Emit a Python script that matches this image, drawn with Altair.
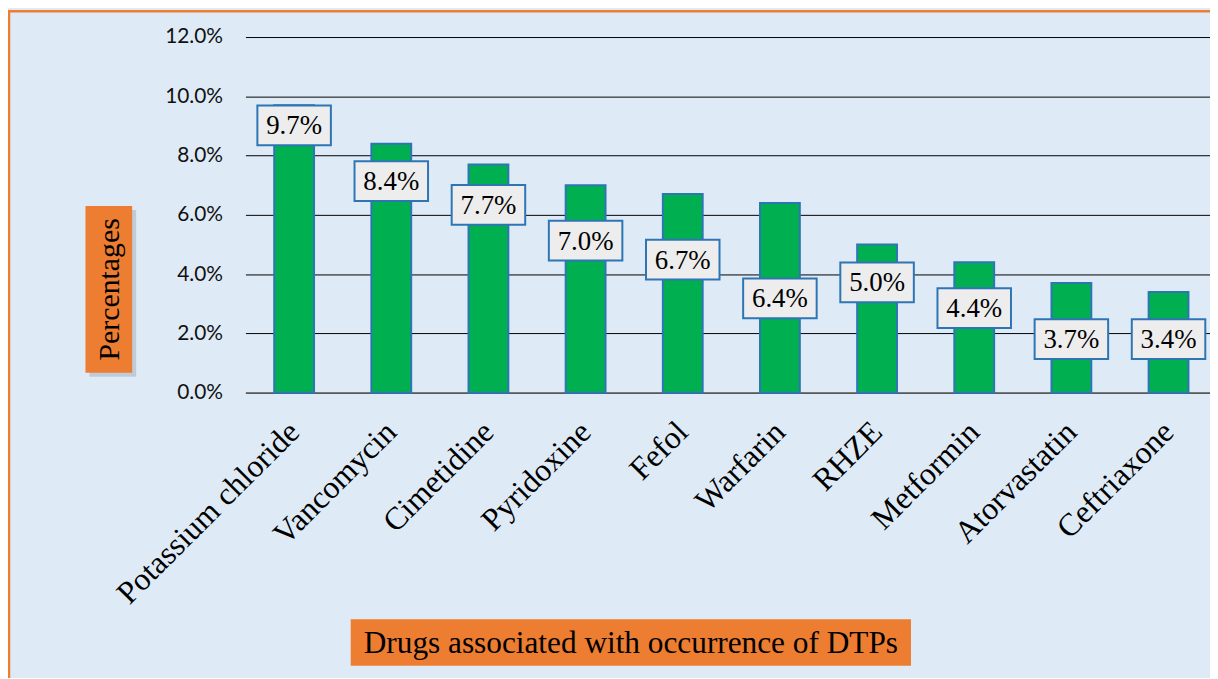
import altair as alt
import pandas as pd

drugs = ["Potassium chloride", "Vancomycin", "Cimetidine", "Pyridoxine", "Fefol",
         "Warfarin", "RHZE", "Metformin", "Atorvastatin", "Ceftriaxone"]
percent = [9.7, 8.4, 7.7, 7.0, 6.7, 6.4, 5.0, 4.4, 3.7, 3.4]
# where each data-label box sits, in axis units
label_at = [9.02, 7.14, 6.34, 5.13, 4.49, 3.18, 3.72, 2.85, 1.81, 1.81]
y_ticks = [0, 2, 4, 6, 8, 10, 12]
x_title = "Drugs associated with occurrence of DTPs"
y_title = "Percentages"

df = pd.DataFrame({"drug": drugs, "pct": percent, "lab": label_at})
df["txt"] = [f"{v:.1f}%" for v in percent]

W, H = 971, 358
BG = "#DEEBF7"
ORANGE = "#ED7D31"
BLUE = "#2E75B6"
GREEN = "#00B050"

xscale = alt.Scale(type="band", domain=drugs, paddingInner=0.59, paddingOuter=0.259, align=0.572)
yscale = alt.Scale(domain=[0, 12])

x_enc = alt.X("drug:N", sort=drugs, scale=xscale,
              axis=alt.Axis(title=None, labelAngle=-45, labelAlign="right",
                            labelBaseline="middle", labelFont="Liberation Serif",
                            labelFontSize=32, labelColor="black", labelPadding=34,
                            ticks=False, domainColor="#595959", domainWidth=1.5,
                            labelLimit=500, labelOverlap=False))
y_axis = alt.Axis(title=None, values=y_ticks,
                  labelExpr="format(datum.value, '.1f') + '%'",
                  labelFont="Lato", labelFontSize=21, labelColor="#111111",
                  ticks=False, domain=False, gridColor="black", gridWidth=1,
                  labelPadding=23)

base = alt.Chart(df)
bars = base.mark_bar(fill=GREEN, stroke=BLUE, strokeWidth=2).encode(
    x=x_enc, y=alt.Y("pct:Q", scale=yscale, axis=y_axis))

boxes = base.mark_point(shape="M-1,-0.5405H1V0.5405H-1Z", size=74 * 74, filled=True,
                        fill="#EDEDED", stroke=BLUE, strokeWidth=2, opacity=1).encode(
    x=alt.X("drug:N", sort=drugs, scale=xscale),
    y=alt.Y("lab:Q", scale=yscale))

texts = base.mark_text(font="Liberation Serif", fontSize=27, color="black",
                       align="center", baseline="middle", dy=1).encode(
    x=alt.X("drug:N", sort=drugs, scale=xscale),
    y=alt.Y("lab:Q", scale=yscale),
    text="txt:N")

ydf = pd.DataFrame({"t": [y_title]})
xdf = pd.DataFrame({"t": [x_title]})

y_shadow = alt.Chart(ydf).mark_rect(color="#9aa5b1", opacity=0.45).encode(
    x=alt.value(-157), x2=alt.value(-110), y=alt.value(174), y2=alt.value(342))
y_box = alt.Chart(ydf).mark_rect(color=ORANGE).encode(
    x=alt.value(-161), x2=alt.value(-114), y=alt.value(170), y2=alt.value(338))
y_text = alt.Chart(ydf).mark_text(angle=270, font="Liberation Serif", fontSize=30,
                                  color="black", align="center", baseline="middle").encode(
    x=alt.value(-136), y=alt.value(254), text="t:N")

x_box = alt.Chart(xdf).mark_rect(color=ORANGE).encode(
    x=alt.value(106), x2=alt.value(670), y=alt.value(586), y2=alt.value(633))
x_text = alt.Chart(xdf).mark_text(font="Liberation Serif", fontSize=31.5, color="black",
                                  align="center", baseline="middle").encode(
    x=alt.value(388), y=alt.value(611), text="t:N")

border = alt.Chart(ydf).mark_rect(filled=False, stroke=ORANGE, strokeWidth=2.5).encode(
    x=alt.value(-238), x2=alt.value(W + 200), y=alt.value(-26), y2=alt.value(H + 500))

chart = alt.layer(border, bars, boxes, texts, y_shadow, y_box, y_text, x_box, x_text).properties(
    width=W, height=H,
    autosize=alt.AutoSizeParams(type="none"),
    padding={"left": 239, "top": 27, "right": 0, "bottom": 285},
    background=BG,
).configure_view(strokeWidth=0)

chart.save("out.html", embed_options={"renderer": "svg", "actions": False})
